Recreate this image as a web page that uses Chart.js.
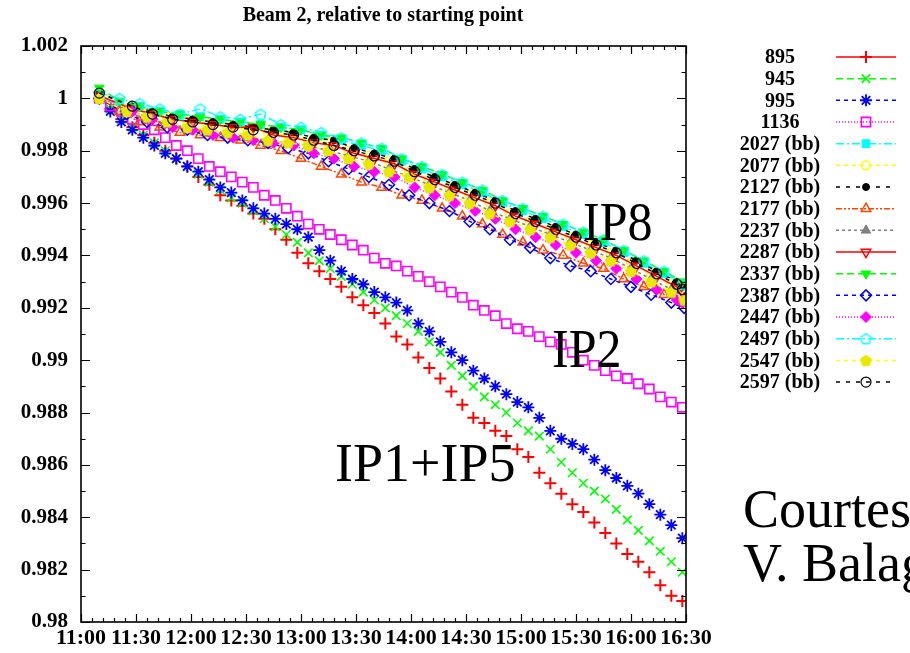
<!DOCTYPE html>
<html>
<head>
<meta charset="utf-8">
<script src="https://cdn.jsdelivr.net/npm/chart.js@4"></script>
<style>
  html, body { margin: 0; padding: 0; background: #fff; }
  canvas { display: block; }
</style>
</head>
<body>
<canvas id="chart" width="910" height="653"></canvas>
<script>
// time axis
const xTickLabels = ['11:00', '11:30', '12:00', '12:30', '13:00', '13:30', '14:00', '14:30', '15:00', '15:30', '16:00', '16:30'];
const yTickValues = [0.98, 0.982, 0.984, 0.986, 0.988, 0.99, 0.992, 0.994, 0.996, 0.998, 1.0, 1.002];
const yTickLabels = ['0.98', '0.982', '0.984', '0.986', '0.988', '0.99', '0.992', '0.994', '0.996', '0.998', '1', '1.002'];

// sample times of the non-colliding bunches (IP1+IP5, IP2)
const times = ['11:10', '11:16', '11:22', '11:28', '11:34', '11:40', '11:46', '11:52', '11:58', '12:04',
  '12:10', '12:16', '12:22', '12:28', '12:34', '12:40', '12:46', '12:52', '12:58', '13:04',
  '13:10', '13:16', '13:22', '13:28', '13:34', '13:40', '13:46', '13:52', '13:58', '14:04',
  '14:10', '14:16', '14:22', '14:28', '14:34', '14:40', '14:46', '14:52', '14:58', '15:04',
  '15:10', '15:16', '15:22', '15:28', '15:34', '15:40', '15:46', '15:52', '15:58', '16:04',
  '16:10', '16:16', '16:22', '16:28'];

// sample times of the (bb) bunches (IP8), three interleaved groups
const timesBB1 = ['11:10', '11:21', '11:32', '11:43', '11:54', '12:05', '12:16', '12:27', '12:38', '12:49',
  '13:00', '13:11', '13:22', '13:33', '13:44', '13:55', '14:06', '14:17', '14:28', '14:39',
  '14:50', '15:01', '15:12', '15:23', '15:34', '15:45', '15:56', '16:07', '16:18', '16:28'];
const timesBB2 = ['11:10', '11:25', '11:36', '11:47', '11:58', '12:09', '12:20', '12:31', '12:42', '12:53',
  '13:04', '13:15', '13:26', '13:37', '13:48', '13:59', '14:10', '14:21', '14:32', '14:43',
  '14:54', '15:05', '15:16', '15:27', '15:38', '15:49', '16:00', '16:11', '16:22', '16:29'];
const timesBB3 = ['11:10', '11:28', '11:39', '11:50', '12:01', '12:12', '12:23', '12:34', '12:45', '12:56',
  '13:07', '13:18', '13:29', '13:40', '13:51', '14:02', '14:13', '14:24', '14:35', '14:46',
  '14:57', '15:08', '15:19', '15:30', '15:41', '15:52', '16:03', '16:14', '16:25', '16:28'];

const seriesLabels = ['895', '945', '995', '1136', '2027 (bb)', '2077 (bb)', '2127 (bb)', '2177 (bb)',
  '2237 (bb)', '2287 (bb)', '2337 (bb)', '2387 (bb)', '2447 (bb)', '2497 (bb)', '2547 (bb)', '2597 (bb)'];

const b895 = [1.0000, 0.9996, 0.9992, 0.9989, 0.9986, 0.9983, 0.9980, 0.9977, 0.9974, 0.9970,
  0.9967, 0.9963, 0.9961, 0.9959, 0.9956, 0.9954, 0.9950, 0.9946, 0.9941, 0.9937,
  0.9934, 0.9931, 0.9928, 0.9924, 0.9921, 0.9918, 0.9914, 0.9909, 0.9906, 0.9901,
  0.9897, 0.9893, 0.9888, 0.9883, 0.9878, 0.9876, 0.9873, 0.9871, 0.9866, 0.9863,
  0.9857, 0.9853, 0.9849, 0.9845, 0.9842, 0.9838, 0.9834, 0.9830, 0.9826, 0.9823,
  0.9819, 0.9814, 0.9810, 0.9808];
const b945 = [1.0001, 0.9996, 0.9992, 0.9989, 0.9986, 0.9983, 0.9980, 0.9977, 0.9974, 0.9971,
  0.9968, 0.9965, 0.9962, 0.9960, 0.9957, 0.9954, 0.9951, 0.9948, 0.9945, 0.9941,
  0.9938, 0.9935, 0.9932, 0.9929, 0.9926, 0.9923, 0.9920, 0.9917, 0.9914, 0.9911,
  0.9907, 0.9903, 0.9898, 0.9894, 0.9890, 0.9886, 0.9883, 0.9880, 0.9876, 0.9873,
  0.9871, 0.9866, 0.9861, 0.9857, 0.9853, 0.9850, 0.9847, 0.9843, 0.9839, 0.9835,
  0.9831, 0.9827, 0.9823, 0.9819];
const b995 = [1.0000, 0.9995, 0.9991, 0.9988, 0.9985, 0.9982, 0.9979, 0.9977, 0.9974, 0.9972,
  0.9969, 0.9966, 0.9964, 0.9961, 0.9958, 0.9956, 0.9954, 0.9952, 0.9950, 0.9947,
  0.9942, 0.9938, 0.9934, 0.9931, 0.9929, 0.9926, 0.9924, 0.9922, 0.9919, 0.9914,
  0.9911, 0.9907, 0.9903, 0.9900, 0.9896, 0.9893, 0.9890, 0.9887, 0.9884, 0.9882,
  0.9878, 0.9873, 0.9870, 0.9868, 0.9866, 0.9862, 0.9858, 0.9855, 0.9852, 0.9849,
  0.9845, 0.9841, 0.9837, 0.9832];
const b1136 = [1.0000, 0.9997, 0.9995, 0.9992, 0.9990, 0.9988, 0.9985, 0.9982, 0.9980, 0.9977,
  0.9974, 0.9972, 0.9970, 0.9968, 0.9966, 0.9963, 0.9961, 0.9958, 0.9955, 0.9952,
  0.9950, 0.9948, 0.9946, 0.9944, 0.9942, 0.9939, 0.9937, 0.9936, 0.9934, 0.9932,
  0.9930, 0.9928, 0.9926, 0.9924, 0.9921, 0.9919, 0.9917, 0.9914, 0.9912, 0.9911,
  0.9909, 0.9907, 0.9906, 0.9903, 0.9900, 0.9898, 0.9896, 0.9894, 0.9893, 0.9891,
  0.9889, 0.9886, 0.9884, 0.9882];

const b2027 = [1.0000, 0.9998, 0.9997, 0.9995, 0.9994, 0.9993, 0.9992, 0.9991, 0.9990, 0.9989,
  0.9988, 0.9986, 0.9984, 0.9982, 0.9980, 0.9976, 0.9973, 0.9970, 0.9967, 0.9964,
  0.9960, 0.9957, 0.9954, 0.9951, 0.9948, 0.9945, 0.9941, 0.9937, 0.9933, 0.9929];
const b2077 = [1.0001, 0.9996, 0.9994, 0.9993, 0.9991, 0.9990, 0.9989, 0.9988, 0.9987, 0.9986,
  0.9984, 0.9983, 0.9980, 0.9978, 0.9976, 0.9972, 0.9969, 0.9966, 0.9963, 0.9960,
  0.9956, 0.9953, 0.9950, 0.9947, 0.9944, 0.9941, 0.9937, 0.9933, 0.9929, 0.9927];
const b2127 = [1.0002, 0.9997, 0.9995, 0.9993, 0.9992, 0.9991, 0.9990, 0.9989, 0.9988, 0.9987,
  0.9985, 0.9984, 0.9981, 0.9979, 0.9977, 0.9973, 0.9970, 0.9967, 0.9964, 0.9961,
  0.9957, 0.9954, 0.9951, 0.9948, 0.9945, 0.9942, 0.9938, 0.9934, 0.9930, 0.9928];
const b2177 = [1.0000, 0.9995, 0.9991, 0.9989, 0.9987, 0.9986, 0.9985, 0.9984, 0.9982, 0.9980,
  0.9977, 0.9974, 0.9971, 0.9968, 0.9966, 0.9963, 0.9961, 0.9958, 0.9955, 0.9952,
  0.9948, 0.9945, 0.9942, 0.9940, 0.9937, 0.9935, 0.9931, 0.9928, 0.9925, 0.9922];
const b2237 = [1.0000, 0.9995, 0.9992, 0.9990, 0.9989, 0.9987, 0.9986, 0.9985, 0.9984, 0.9983,
  0.9982, 0.9980, 0.9978, 0.9976, 0.9973, 0.9970, 0.9967, 0.9964, 0.9961, 0.9957,
  0.9954, 0.9951, 0.9948, 0.9945, 0.9942, 0.9939, 0.9935, 0.9931, 0.9927, 0.9924];
const b2287 = [1.0001, 0.9996, 0.9994, 0.9992, 0.9991, 0.9990, 0.9989, 0.9989, 0.9986, 0.9985,
  0.9983, 0.9982, 0.9979, 0.9977, 0.9975, 0.9971, 0.9968, 0.9965, 0.9962, 0.9959,
  0.9955, 0.9952, 0.9949, 0.9946, 0.9943, 0.9940, 0.9936, 0.9932, 0.9928, 0.9926];
const b2337 = [1.0004, 0.9999, 0.9997, 0.9995, 0.9994, 0.9993, 0.9992, 0.9991, 0.9990, 0.9989,
  0.9988, 0.9986, 0.9985, 0.9983, 0.9981, 0.9977, 0.9974, 0.9971, 0.9968, 0.9965,
  0.9961, 0.9958, 0.9955, 0.9952, 0.9949, 0.9946, 0.9942, 0.9938, 0.9934, 0.9930];
const b2387 = [1.0000, 0.9994, 0.9991, 0.9989, 0.9988, 0.9986, 0.9985, 0.9984, 0.9983, 0.9981,
  0.9979, 0.9976, 0.9973, 0.9970, 0.9967, 0.9963, 0.9960, 0.9957, 0.9953, 0.9950,
  0.9946, 0.9943, 0.9939, 0.9936, 0.9934, 0.9931, 0.9928, 0.9925, 0.9922, 0.9920];
const b2447 = [1.0000, 0.9995, 0.9992, 0.9989, 0.9988, 0.9986, 0.9985, 0.9984, 0.9983, 0.9982,
  0.9979, 0.9977, 0.9974, 0.9972, 0.9970, 0.9966, 0.9963, 0.9960, 0.9957, 0.9954,
  0.9950, 0.9947, 0.9944, 0.9941, 0.9938, 0.9935, 0.9931, 0.9927, 0.9923, 0.9922];
const b2497 = [1.0002, 1.0000, 0.9998, 0.9996, 0.9994, 0.9996, 0.9993, 0.9992, 0.9994, 0.9990,
  0.9989, 0.9987, 0.9985, 0.9983, 0.9981, 0.9977, 0.9974, 0.9971, 0.9968, 0.9965,
  0.9961, 0.9958, 0.9955, 0.9952, 0.9949, 0.9946, 0.9942, 0.9938, 0.9934, 0.9929];
const b2547 = [1.0000, 0.9995, 0.9993, 0.9991, 0.9989, 0.9988, 0.9987, 0.9986, 0.9984, 0.9983,
  0.9982, 0.9980, 0.9977, 0.9975, 0.9972, 0.9970, 0.9966, 0.9963, 0.9960, 0.9956,
  0.9953, 0.9950, 0.9947, 0.9944, 0.9941, 0.9938, 0.9934, 0.9930, 0.9926, 0.9923];
const b2597 = [1.0002, 0.9997, 0.9994, 0.9992, 0.9991, 0.9990, 0.9989, 0.9988, 0.9987, 0.9986,
  0.9984, 0.9982, 0.9980, 0.9978, 0.9976, 0.9972, 0.9969, 0.9966, 0.9963, 0.9960,
  0.9956, 0.9953, 0.9950, 0.9947, 0.9944, 0.9941, 0.9937, 0.9933, 0.9929, 0.9927];

const seriesValues = [b895, b945, b995, b1136, b2027, b2077, b2127, b2177,
  b2237, b2287, b2337, b2387, b2447, b2497, b2547, b2597];
const seriesTimes = [times, times, times, times, timesBB1, timesBB2, timesBB3, timesBB1,
  timesBB2, timesBB3, timesBB1, timesBB2, timesBB3, timesBB1, timesBB2, timesBB3];

function toMin(s) {
  const p = s.split(':');
  return Number(p[0]) * 60 + Number(p[1]);
}

// gnuplot like pentagon marker
function pentagon(color, filled) {
  const c = document.createElement('canvas');
  c.width = 13; c.height = 13;
  const g = c.getContext('2d');
  g.beginPath();
  for (let k = 0; k < 5; k++) {
    const a = -Math.PI / 2 + k * 2 * Math.PI / 5;
    const px = 6.5 + 5.5 * Math.cos(a), py = 7 + 5.5 * Math.sin(a);
    if (k === 0) g.moveTo(px, py); else g.lineTo(px, py);
  }
  g.closePath();
  if (filled) { g.fillStyle = color; g.fill(); }
  g.strokeStyle = color;
  g.lineWidth = 1.4;
  g.stroke();
  return c;
}

const styles = [
  { color: '#ff0000', shape: 'cross', filled: false, r: 6, dash: [], bw: 2 },
  { color: '#00ff00', shape: 'crossRot', filled: false, r: 6, dash: [7, 4], bw: 1.6 },
  { color: '#0000ff', shape: 'star', filled: false, r: 6, dash: [4, 4], bw: 1.8 },
  { color: '#ff00ff', shape: 'rect', filled: false, r: 6.5, dash: [1, 2], bw: 1.6 },
  { color: '#00ffff', shape: 'rect', filled: true, r: 5.5, dash: [8, 3, 2, 3], bw: 1 },
  { color: '#ffff00', shape: 'circle', filled: false, r: 4.5, dash: [4, 4], bw: 1.5 },
  { color: '#000000', shape: 'circle', filled: true, r: 3.5, dash: [4, 6], bw: 1 },
  { color: '#ff4500', shape: 'triangle', filled: false, r: 5.5, dash: [6, 2, 2, 2, 2, 2], bw: 1.5 },
  { color: '#808080', shape: 'triangle', filled: true, r: 5.5, dash: [3, 3], bw: 1 },
  { color: '#ff0000', shape: 'triangle', filled: false, r: 5.5, rot: 180, dash: [], bw: 1.5 },
  { color: '#00ff00', shape: 'triangle', filled: true, r: 5.5, rot: 180, dash: [7, 4], bw: 1 },
  { color: '#0000ff', shape: 'rectRot', filled: false, r: 5.5, dash: [4, 4], bw: 1.5 },
  { color: '#ff00ff', shape: 'rectRot', filled: true, r: 5.5, dash: [1, 2], bw: 1 },
  { color: '#00ffff', shape: pentagon('#00ffff', false), filled: false, r: 5.5, dash: [8, 3, 2, 3], bw: 1 },
  { color: '#ffff00', shape: pentagon('#e8e800', true), filled: true, r: 5.5, dash: [4, 4], bw: 1 },
  { color: '#000000', shape: 'circle', filled: false, r: 5, dash: [4, 6], bw: 1.2 }
];

const datasets = seriesValues.map((vals, i) => {
  const st = styles[i];
  const ts = seriesTimes[i];
  return {
    label: seriesLabels[i],
    data: vals.map((v, k) => ({ x: toMin(ts[k]), y: v })),
    borderColor: st.color,
    borderWidth: 1.5,
    borderDash: st.dash,
    backgroundColor: st.color,
    pointStyle: st.shape,
    pointRadius: st.r,
    pointRotation: st.rot || 0,
    pointBorderWidth: st.bw,
    pointBorderColor: st.color,
    pointBackgroundColor: st.filled ? st.color : 'rgba(0,0,0,0)',
    // the dense (bb) bunches read as a band, so join their samples
    showLine: i >= 4,
    fill: false,
    tension: 0,
    order: -i
  };
});

function drawScaledText(ctx, txt, x, y, font, sy) {
  ctx.save();
  ctx.translate(x, y);
  ctx.scale(1, sy);
  ctx.font = font;
  ctx.fillText(txt, 0, 0);
  ctx.restore();
}

const gnuplotDecor = {
  id: 'gnuplotDecor',
  afterDatasetsDraw(chart) {
    const { ctx, chartArea: a, scales: { x, y } } = chart;
    ctx.save();
    ctx.strokeStyle = '#000';
    ctx.setLineDash([]);
    ctx.lineWidth = 1.2;
    ctx.beginPath();
    // inward ticks, mirrored
    for (let m = 660; m <= 990; m += 6) {
      const px = Math.round(x.getPixelForValue(m)) + 0.5;
      const len = (m % 30 === 0) ? 8 : 4;
      ctx.moveTo(px, a.bottom); ctx.lineTo(px, a.bottom - len);
      ctx.moveTo(px, a.top); ctx.lineTo(px, a.top + len);
    }
    for (let k = 0; k <= 22; k++) {
      const py = Math.round(y.getPixelForValue(0.98 + k * 0.001)) + 0.5;
      const len = (k % 2 === 0) ? 9 : 4.5;
      ctx.moveTo(a.left, py); ctx.lineTo(a.left + len, py);
      ctx.moveTo(a.right, py); ctx.lineTo(a.right - len, py);
    }
    ctx.stroke();
    ctx.lineWidth = 1.6;
    ctx.strokeRect(a.left, a.top, a.right - a.left, a.bottom - a.top);
    ctx.restore();
  },
  afterDraw(chart) {
    const ctx = chart.ctx;
    ctx.save();
    ctx.fillStyle = '#000';
    // title
    ctx.font = 'bold 20px "Liberation Serif"';
    ctx.textAlign = 'center';
    ctx.textBaseline = 'alphabetic';
    ctx.fillText('Beam 2, relative to starting point', 383, 21);

    // key
    const helpers = Chart.helpers;
    chart.data.datasets.forEach((ds, i) => {
      const yy = 57 + i * 21.67;
      ctx.fillStyle = '#000';
      ctx.font = 'bold 20px "Liberation Serif"';
      ctx.textAlign = 'center';
      ctx.textBaseline = 'middle';
      ctx.fillText(ds.label, 780, yy + 1);
      ctx.strokeStyle = ds.borderColor;
      ctx.lineWidth = 1.5;
      ctx.setLineDash(ds.borderDash);
      ctx.beginPath();
      ctx.moveTo(836, yy); ctx.lineTo(896, yy);
      ctx.stroke();
      ctx.setLineDash([]);
      ctx.fillStyle = ds.pointBackgroundColor;
      ctx.strokeStyle = ds.pointBorderColor;
      ctx.lineWidth = ds.pointBorderWidth;
      if (helpers && helpers.drawPoint) {
        helpers.drawPoint(ctx, {
          pointStyle: ds.pointStyle, rotation: ds.pointRotation,
          radius: ds.pointRadius, borderWidth: ds.pointBorderWidth
        }, 866, yy);
      }
    });

    // annotations
    ctx.fillStyle = '#000';
    ctx.textAlign = 'left';
    ctx.textBaseline = 'alphabetic';
    drawScaledText(ctx, 'IP8', 583, 240, '50px "Liberation Serif"', 1.1);
    drawScaledText(ctx, 'IP2', 552, 367, '50px "Liberation Serif"', 1.1);
    drawScaledText(ctx, 'IP1+IP5', 335, 481, '54px "Liberation Serif"', 1.0);
    drawScaledText(ctx, 'Courtesy', 743, 527, '54px "Liberation Serif"', 1.0);
    drawScaledText(ctx, 'V. Balagura', 743, 581, '54px "Liberation Serif"', 1.0);
    ctx.restore();
  }
};

new Chart(document.getElementById('chart'), {
  type: 'line',
  data: { datasets },
  options: {
    responsive: false,
    animation: false,
    devicePixelRatio: 1,
    layout: { padding: { left: 0, top: 46, right: 224, bottom: 0 } },
    plugins: { legend: { display: false }, tooltip: { enabled: false }, title: { display: false } },
    scales: {
      x: {
        type: 'linear',
        min: 660,
        max: 990,
        afterBuildTicks: (s) => { s.ticks = xTickLabels.map(l => ({ value: toMin(l) })); },
        afterFit: (s) => { s.height = 31; },
        grid: { display: false, drawTicks: false },
        border: { display: false },
        ticks: {
          autoSkip: false, maxRotation: 0, minRotation: 0, padding: 3,
          color: '#000',
          font: { family: 'Liberation Serif', size: 22, weight: 'bold' },
          callback: (v, i) => xTickLabels[i]
        }
      },
      y: {
        type: 'linear',
        min: 0.98,
        max: 1.002,
        afterBuildTicks: (s) => { s.ticks = yTickValues.map(v => ({ value: v })); },
        afterFit: (s) => { s.width = 81; },
        grid: { display: false, drawTicks: false },
        border: { display: false },
        ticks: {
          padding: 13,
          color: '#000',
          font: { family: 'Liberation Serif', size: 21, weight: 'bold' },
          callback: (v, i) => yTickLabels[i]
        }
      }
    }
  },
  plugins: [gnuplotDecor]
});
</script>
</body>
</html>
